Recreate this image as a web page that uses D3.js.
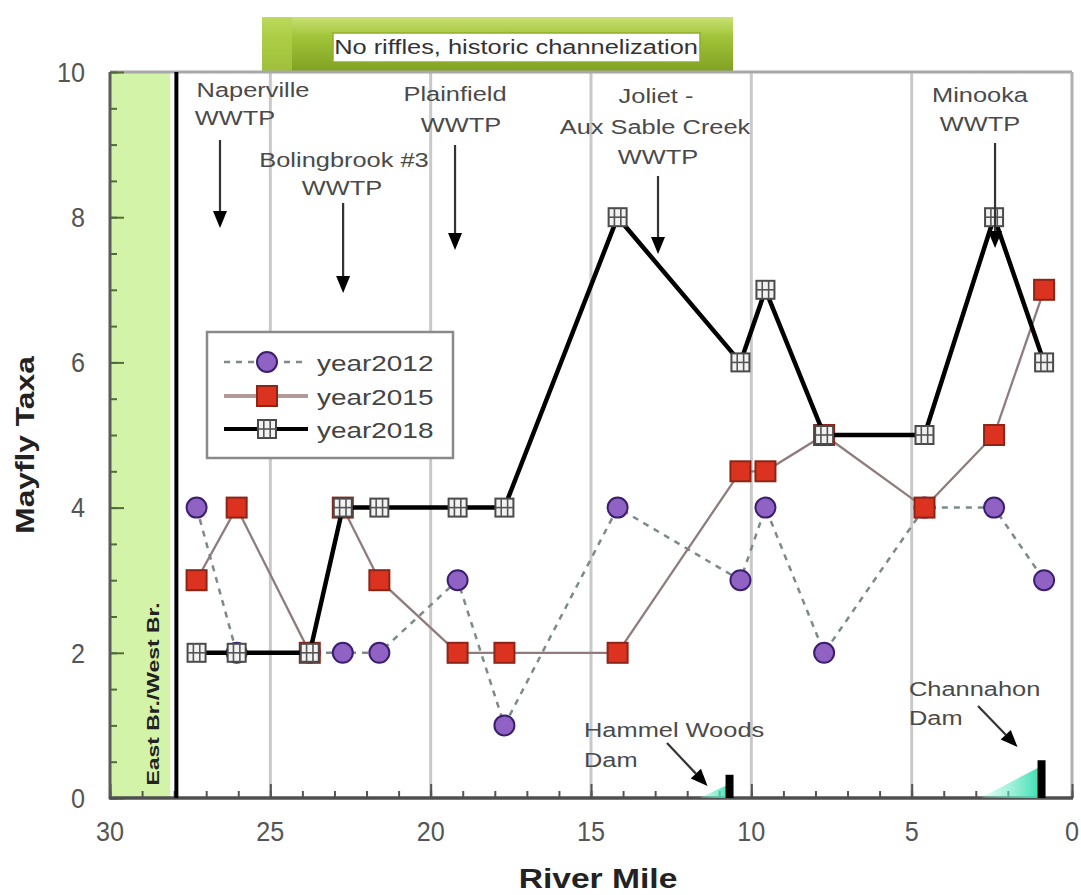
<!DOCTYPE html>
<html>
<head>
<meta charset="utf-8">
<script src="https://cdn.jsdelivr.net/npm/d3@7/dist/d3.min.js"></script>
<style>
  html, body { margin: 0; padding: 0; background: #ffffff; }
  svg { display: block; font-family: "Liberation Sans", Arial, sans-serif; }
</style>
</head>
<body>
<svg id="chart" width="1081" height="895"></svg>
<script>
// Sampling sites (river mile) and mayfly taxa counts per survey year
const riverMiles = [27.3, 26.05, 23.77, 22.74, 21.6, 19.16, 17.7, 14.17, 10.34, 9.56, 7.73, 4.6, 2.43, 0.87];
const year2012 = [4, 2, 2, 2, 2, 3, 1, 4, 3, 4, 2, 4, 4, 3];
const year2015 = [3, 4, 2, 4, 3, 2, 2, 2, 4.5, 4.5, 5, 4, 5, 7];
const year2018 = [2, 2, 2, 4, 4, 4, 4, 8, 6, 7, 5, 5, 8, 6];
const seriesNames = ["year2012", "year2015", "year2018"];

const xTickValues = [30, 25, 20, 15, 10, 5, 0];
const yTickValues = [0, 2, 4, 6, 8, 10];

// Dams: river mile and relative height
const damNames = ["Hammel Woods Dam", "Channahon Dam"];
const damMiles = [10.68, 0.95];
const damHeights = [0.32, 0.52];

// Treatment plant discharge locations (river mile)
const plantLabels = [["Naperville", "WWTP"], ["Bolingbrook #3", "WWTP"], ["Plainfield", "WWTP"], ["Joliet -", "Aux Sable Creek", "WWTP"], ["Minooka", "WWTP"]];
const plantMiles = [26.57, 22.73, 19.24, 12.91, 2.4];

const svg = d3.select("#chart");
const L = 110, R = 1072, T = 72, B = 798;

const x = d3.scaleLinear().domain([30, 0]).range([L, R]);
const y = d3.scaleLinear().domain([0, 10]).range([B, T]);

const SX = 1.27; // horizontal stretch of the annotation lettering

function stretchedText(g, px, py, str, opts) {
  const o = Object.assign({ size: 20, anchor: "middle", sx: SX, fill: "#4a4a4a", weight: "normal", rotate: 0 }, opts || {});
  const grp = g.append("g").attr("transform", `translate(${px},${py}) rotate(${o.rotate})`);
  grp.append("text")
    .attr("transform", `scale(${o.sx},1)`)
    .attr("text-anchor", o.anchor)
    .attr("dy", "0.35em")
    .attr("font-size", o.size)
    .attr("font-weight", o.weight)
    .attr("fill", o.fill)
    .text(str);
  return grp;
}

const defs = svg.append("defs");
const bannerGrad = defs.append("linearGradient").attr("id", "bannerGrad").attr("x1", 0).attr("y1", 0).attr("x2", 0).attr("y2", 1);
bannerGrad.append("stop").attr("offset", "0%").attr("stop-color", "#c9e173");
bannerGrad.append("stop").attr("offset", "35%").attr("stop-color", "#a2c43a");
bannerGrad.append("stop").attr("offset", "100%").attr("stop-color", "#7f9f22");

const poolGrad = defs.append("linearGradient").attr("id", "poolGrad").attr("x1", 0).attr("y1", 0).attr("x2", 1).attr("y2", 0);
poolGrad.append("stop").attr("offset", "0%").attr("stop-color", "#8ff2d6").attr("stop-opacity", 0.25);
poolGrad.append("stop").attr("offset", "100%").attr("stop-color", "#36dcae").attr("stop-opacity", 1);

// Channelized reach banner
svg.append("rect").attr("x", 262).attr("y", 17).attr("width", 471).attr("height", 56).attr("fill", "url(#bannerGrad)");
svg.append("rect").attr("x", 262).attr("y", 17).attr("width", 30).attr("height", 56).attr("fill", "#b4d44c").attr("opacity", 0.6);
svg.append("rect").attr("x", 333).attr("y", 33).attr("width", 367).attr("height", 29).attr("fill", "#ffffff").attr("stroke", "#8fae2e").attr("stroke-width", 1.5);
stretchedText(svg, 516, 47, "No riffles, historic channelization", { size: 20, sx: 1.27, fill: "#333" });

// East/West Branch confluence reach
svg.append("rect").attr("x", x(30)).attr("y", T).attr("width", x(28.12) - x(30)).attr("height", B - T).attr("fill", "#d3f3a9");

// Vertical reference lines
svg.append("g").selectAll("line").data([25, 20, 15, 10, 5]).join("line")
  .attr("x1", d => x(d)).attr("x2", d => x(d)).attr("y1", T).attr("y2", B)
  .attr("stroke", "#c9c9c9").attr("stroke-width", 3);

// Frame
svg.append("line").attr("x1", L).attr("x2", R).attr("y1", T).attr("y2", T).attr("stroke", "#a8a8a8").attr("stroke-width", 3);
svg.append("line").attr("x1", R).attr("x2", R).attr("y1", T).attr("y2", B).attr("stroke", "#b0b0b0").attr("stroke-width", 3);

// Axes with inward ticks
const xMinor = d3.range(0, 31, 1);
const yMinor = d3.range(0, 10.01, 0.5);
svg.append("g").attr("transform", `translate(0,${B})`)
  .call(d3.axisBottom(x).tickValues(xMinor).tickSize(-7).tickFormat(""))
  .call(g => g.selectAll("line").attr("stroke", "#555").attr("stroke-width", 2))
  .call(g => g.select(".domain").remove());
svg.append("g").attr("transform", `translate(0,${B})`)
  .call(d3.axisBottom(x).tickValues(xTickValues).tickSize(-14).tickFormat(""))
  .call(g => g.selectAll("line").attr("stroke", "#555").attr("stroke-width", 2))
  .call(g => g.select(".domain").remove());
svg.append("g").attr("transform", `translate(${L},0)`)
  .call(d3.axisLeft(y).tickValues(yMinor).tickSize(-7).tickFormat(""))
  .call(g => g.selectAll("line").attr("stroke", "#556b3a").attr("stroke-width", 2))
  .call(g => g.select(".domain").remove());
svg.append("g").attr("transform", `translate(${L},0)`)
  .call(d3.axisLeft(y).tickValues(yTickValues).tickSize(-14).tickFormat(""))
  .call(g => g.selectAll("line").attr("stroke", "#556b3a").attr("stroke-width", 2))
  .call(g => g.select(".domain").remove());
svg.append("line").attr("x1", L).attr("x2", L).attr("y1", T).attr("y2", B + 1).attr("stroke", "#5b5b5b").attr("stroke-width", 3);
svg.append("line").attr("x1", L - 1).attr("x2", R + 1).attr("y1", B).attr("y2", B).attr("stroke", "#4f4f4f").attr("stroke-width", 3.5);

// Tick labels
xTickValues.forEach(v => stretchedText(svg, x(v), 831, String(v), { size: 28, sx: 0.9, fill: "#555" }));
yTickValues.forEach(v => stretchedText(svg, 85, y(v), String(v), { size: 28, sx: 0.9, fill: "#555", anchor: "end" }));

// Axis titles
stretchedText(svg, 598, 878, "River Mile", { size: 28, sx: 1.2, fill: "#222", weight: "bold" });
stretchedText(svg, 25, 445, "Mayfly Taxa", { size: 25, sx: 1.27, fill: "#222", weight: "bold", rotate: -90 });

// Branch divider and label
svg.append("line").attr("x1", x(27.93)).attr("x2", x(27.93)).attr("y1", T).attr("y2", B).attr("stroke", "#000").attr("stroke-width", 4);
stretchedText(svg, 153, 694, "East Br./West Br.", { size: 17, sx: 1.35, fill: "#222", weight: "bold", rotate: -90 });

// Impoundment pools and dams
damMiles.forEach((m, i) => {
  const spread = i === 0 ? 0.95 : 1.9;
  const poolTop = damHeights[i] * (i === 0 ? 0.6 : 0.85);
  svg.append("path")
    .attr("d", d3.line()([[x(m + spread), y(0)], [x(m), y(poolTop)], [x(m), y(0)]]) + "Z")
    .attr("fill", "url(#poolGrad)");
  svg.append("rect")
    .attr("x", x(m) - 4).attr("y", y(damHeights[i]))
    .attr("width", 8).attr("height", y(0) - y(damHeights[i]))
    .attr("fill", "#000");
});

// Series lines
const pts = vals => riverMiles.map((m, i) => [x(m), y(vals[i])]);
const line = d3.line();

function drawSquare2018(g, cx, cy, s) {
  const h = s / 2;
  g.append("rect").attr("x", cx - h).attr("y", cy - h).attr("width", s).attr("height", s)
    .attr("fill", "#f2f2f2").attr("stroke", "#4a4a4a").attr("stroke-width", 2);
  [-3.2, 3.2].forEach(dx => g.append("line").attr("x1", cx + dx).attr("x2", cx + dx).attr("y1", cy - h).attr("y2", cy + h).attr("stroke", "#555").attr("stroke-width", 1.6));
  g.append("line").attr("x1", cx - h).attr("x2", cx + h).attr("y1", cy).attr("y2", cy).attr("stroke", "#555").attr("stroke-width", 1.6);
}
function drawCircle2012(g, cx, cy) {
  g.append("circle").attr("cx", cx).attr("cy", cy).attr("r", 10)
    .attr("fill", "#8f62c4").attr("stroke", "#3b1f6e").attr("stroke-width", 2);
}
function drawSquare2015(g, cx, cy) {
  g.append("rect").attr("x", cx - 10).attr("y", cy - 10).attr("width", 20).attr("height", 20)
    .attr("fill", "#db3320").attr("stroke", "#8c2516").attr("stroke-width", 2);
}

const gData = svg.append("g");
// 2012
gData.append("path").attr("d", line(pts(year2012))).attr("fill", "none")
  .attr("stroke", "#7c8a8a").attr("stroke-width", 2.5).attr("stroke-dasharray", "6,6");
pts(year2012).forEach(p => drawCircle2012(gData, p[0], p[1]));
// 2015
gData.append("path").attr("d", line(pts(year2015))).attr("fill", "none")
  .attr("stroke", "#8f7c7c").attr("stroke-width", 2.3);
pts(year2015).forEach(p => drawSquare2015(gData, p[0], p[1]));
// 2018
gData.append("path").attr("d", line(pts(year2018))).attr("fill", "none")
  .attr("stroke", "#000").attr("stroke-width", 4.5).attr("stroke-linejoin", "miter");
pts(year2018).forEach(p => drawSquare2018(gData, p[0], p[1], 18));

// Arrows
function arrow(x1, y1, x2, y2) {
  const ang = Math.atan2(y2 - y1, x2 - x1);
  const len = 17, wid = 7;
  const bx = x2 - len * Math.cos(ang), by = y2 - len * Math.sin(ang);
  svg.append("line").attr("x1", x1).attr("y1", y1).attr("x2", bx).attr("y2", by)
    .attr("stroke", "#333").attr("stroke-width", 2.2);
  const px = -Math.sin(ang) * wid, py = Math.cos(ang) * wid;
  svg.append("path").attr("d", `M${x2},${y2}L${bx + px},${by + py}L${bx - px},${by - py}Z`).attr("fill", "#000");
}

// Plant labels and discharge arrows
const plantText = [
  [[253, 90], [235, 118]],
  [[344, 160], [342, 188]],
  [[455, 94], [461, 125]],
  [[656, 96], [655, 127], [658, 157]],
  [[980, 95], [980, 124]]
];
const plantArrowY = [[140, 228], [203, 293], [145, 250], [176, 254], [143, 248]];
plantLabels.forEach((lines, i) => {
  lines.forEach((t, j) => stretchedText(svg, plantText[i][j][0], plantText[i][j][1], t, { size: 20 }));
  const ax = x(plantMiles[i]);
  arrow(ax, plantArrowY[i][0], ax, plantArrowY[i][1]);
});

// Dam labels
stretchedText(svg, 584, 730, "Hammel Woods", { size: 20, anchor: "start" });
stretchedText(svg, 584, 760, "Dam", { size: 20, anchor: "start" });
arrow(667, 743, x(damMiles[0]) - 22, 786);
stretchedText(svg, 909, 689, "Channahon", { size: 20, anchor: "start" });
stretchedText(svg, 909, 718, "Dam", { size: 20, anchor: "start" });
arrow(978, 706, x(damMiles[1]) - 24, 747);

// Legend
const lg = svg.append("g");
lg.append("rect").attr("x", 207).attr("y", 332).attr("width", 246).attr("height", 126)
  .attr("fill", "#ffffff").attr("stroke", "#8a8a8a").attr("stroke-width", 2.5);
const rowsY = [362, 396, 429];
seriesNames.forEach((name, i) => {
  const yy = rowsY[i];
  if (i === 0) {
    lg.append("line").attr("x1", 224).attr("x2", 308).attr("y1", yy).attr("y2", yy)
      .attr("stroke", "#7c8a8a").attr("stroke-width", 2.5).attr("stroke-dasharray", "6,6");
    drawCircle2012(lg, 267, yy);
  } else if (i === 1) {
    lg.append("line").attr("x1", 224).attr("x2", 308).attr("y1", yy).attr("y2", yy)
      .attr("stroke", "#b39a9a").attr("stroke-width", 4);
    drawSquare2015(lg, 267, yy);
  } else {
    lg.append("line").attr("x1", 224).attr("x2", 308).attr("y1", yy).attr("y2", yy)
      .attr("stroke", "#000").attr("stroke-width", 4);
    drawSquare2018(lg, 267, yy, 18);
  }
  stretchedText(lg, 317, yy + 1, name, { size: 22, anchor: "start", sx: 1.27, fill: "#444" });
});
</script>
</body>
</html>
